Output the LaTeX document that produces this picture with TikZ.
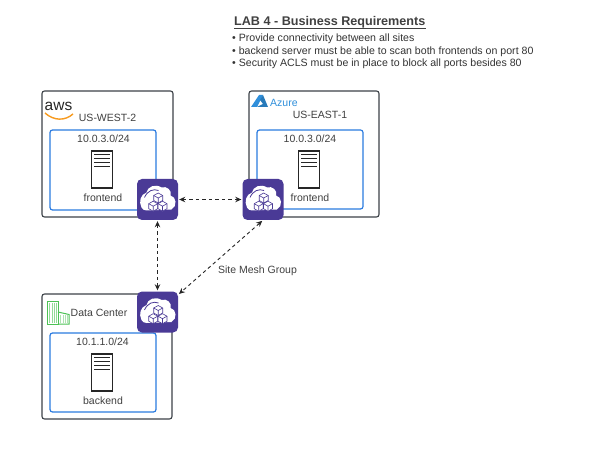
\documentclass[tikz,border=0pt]{standalone}
\usepackage{fontspec}
\setmainfont{Liberation Sans}
\usetikzlibrary{positioning,arrows.meta}
\definecolor{gwpurple}{HTML}{4A3A96}
\definecolor{subnetblue}{HTML}{2B7BE0}
\definecolor{boxgray}{HTML}{3C4248}
\definecolor{awsorange}{HTML}{F79A1E}
\definecolor{azureblue}{HTML}{2F8FDB}
\definecolor{dcgreen}{HTML}{4CC255}
\tikzset{
  region/.style={draw=boxgray, line width=1.1pt, rounded corners=2.5pt, fill=white},
  subnet/.style={draw=subnetblue, line width=1.2pt, rounded corners=2.5pt},
  lbl/.style={font=\fontsize{10.5}{12}\selectfont, text=black!75, inner sep=0pt},
  req/.style={font=\fontsize{10.6}{12}\selectfont, text=black!80, inner sep=0pt, anchor=base west},
  gateway/.style={fill=gwpurple, rounded corners=5pt, minimum size=41pt, inner sep=0pt},
  mesh/.style={{Stealth[length=6pt,width=5.5pt]}-{Stealth[length=6pt,width=5.5pt]}, line width=0.9pt, black!85, dash pattern=on 3.5pt off 3pt, shorten >=1pt, shorten <=1pt},
  pics/server/.style={code={
    \draw[line width=1.4pt, draw=black!85, fill=white] (-10.5,-18.5) rectangle (10.5,18.5);
    \foreach \yy in {-15,-11,-7,-3}
      \draw[line width=1.4pt, black!85] (-8,\yy) -- (8,\yy);
  }},
  pics/cubes/.style={code={
    % cloud
    \fill[white] (-16,8) .. controls (-19,2) and (-17,-5) .. (-11,-7)
      .. controls (-10,-13) and (-2,-16) .. (4,-12)
      .. controls (9,-14) and (15,-9) .. (13,-4)
      .. controls (19,-3) and (20,7) .. (14,10)
      -- (-11,11) .. controls (-13,11) and (-15,10) .. (-16,8) -- cycle;
    \draw[gwpurple, line width=0.8pt] (-13,-2) .. controls (-10,-9) and (-4,-11) .. (1,-9);
    % cube stack
    \foreach \cx/\cy in {0.7/-1.5,-4.3/6.7,5/6.7}{
      \draw[gwpurple, fill=white, line width=0.6pt, line join=round]
        (\cx,\cy-5) -- (\cx+4.5,\cy-2.5) -- (\cx+4.5,\cy+2.5) -- (\cx,\cy+5)
        -- (\cx-4.5,\cy+2.5) -- (\cx-4.5,\cy-2.5) -- cycle;
      \draw[gwpurple, line width=0.6pt] (\cx-4.5,\cy-2.5) -- (\cx,\cy) -- (\cx+4.5,\cy-2.5) (\cx,\cy) -- (\cx,\cy+5);
    }
  }}
}
\begin{document}
\begin{tikzpicture}[x=1pt, y=-1pt, >=stealth]
  \useasboundingbox (0,0) rectangle (589,449);

  % Requirements
  \node[anchor=base west, inner sep=0pt, font=\fontsize{12.6}{14}\selectfont\bfseries, text=black!75] (title) at (234,26) {LAB 4 - Business Requirements};
  \draw[line width=0.9pt, black!75] ([yshift=-2pt]title.base west) -- ([yshift=-2pt]title.base east);
  \node[req] (req1) at (232,41.5) {• Provide connectivity between all sites};
  \node[req] (req2) at (232,54.5) {• backend server must be able to scan both frontends on port 80};
  \node[req] (req3) at (232,67) {• Security ACLS must be in place to block all ports besides 80};

  % AWS region
  \draw[region] (42,91) rectangle (173,217);
  \draw[subnet] (50,130) rectangle (156,210);
  \node[anchor=base west, inner sep=0pt, font=\fontsize{15.5}{16}\selectfont, text=black!85] (awslogo) at (44.5,110.5) {aws};
  \draw[awsorange, line width=1.4pt] (45,113) .. controls (54,121) and (65,121) .. (73,114);
  \node[lbl] (west) at (107.5,118) {US-WEST-2};
  \node[lbl] (subwest) at (103.5,139) {10.0.3.0/24};
  \pic at (102,169.5) {server};
  \node[lbl] (frontwest) at (103,198) {frontend};

  % Azure region
  \draw[region] (249,91) rectangle (379,217);
  \draw[subnet] (257,130) rectangle (363,209);
  \fill[azureblue] (251,107) -- (259,95) -- (263,95) -- (257,107) -- cycle;
  \fill[azureblue!85!black] (260,100) -- (263,95) -- (268,107) -- (257,107) -- (263,104) -- cycle;
  \node[anchor=base west, inner sep=0pt, font=\fontsize{10.5}{12}\selectfont, text=azureblue] (azurelogo) at (270,106.5) {Azure};
  \node[lbl] (east) at (320,114.5) {US-EAST-1};
  \node[lbl] (subeast) at (310,139) {10.0.3.0/24};
  \pic at (309,169.5) {server};
  \node[lbl] (fronteast) at (310,198) {frontend};

  % Data Center
  \draw[region] (42,294) rectangle (172,419);
  \draw[subnet] (50,333) rectangle (156,412);
  \foreach \xx in {49.5,52,54.5,56.5}
    \draw[dcgreen!60, line width=0.8pt] (\xx,303) -- (\xx,323);
  \foreach \xx in {60.5,63,65.5,67.5}
    \draw[dcgreen!45, line width=1pt] (\xx,315) -- (\xx,323);
  \draw[dcgreen, line width=1pt] (47,301) rectangle (58,324);
  \draw[dcgreen, line width=1pt] (58,312) -- (69,314.5) -- (69,324) -- (58,324);
  \node[lbl, anchor=west] (dclabel) at (70.5,313) {Data Center};
  \node[lbl] (subdc) at (102.5,341.5) {10.1.1.0/24};
  \pic at (102,372.5) {server};
  \node[lbl] (backend) at (103,401) {backend};

  % Gateways
  \node[gateway] (gwwest) at (157.5,199.5) {};
  \pic at (157.5,199.5) {cubes};
  \node[gateway] (gweast) at (263,199.5) {};
  \pic at (263,199.5) {cubes};
  \node[gateway] (gwdc) at (157.5,312) {};
  \pic at (157.5,312) {cubes};

  % Mesh
  \draw[mesh] (gwwest) -- (gweast);
  \draw[mesh] (gwwest) -- (gwdc);
  \draw[mesh] (gweast.south) -- (gwdc.40);
  \node[lbl] (meshlabel) at (257.5,270.5) {Site Mesh Group};
\end{tikzpicture}
\end{document}
